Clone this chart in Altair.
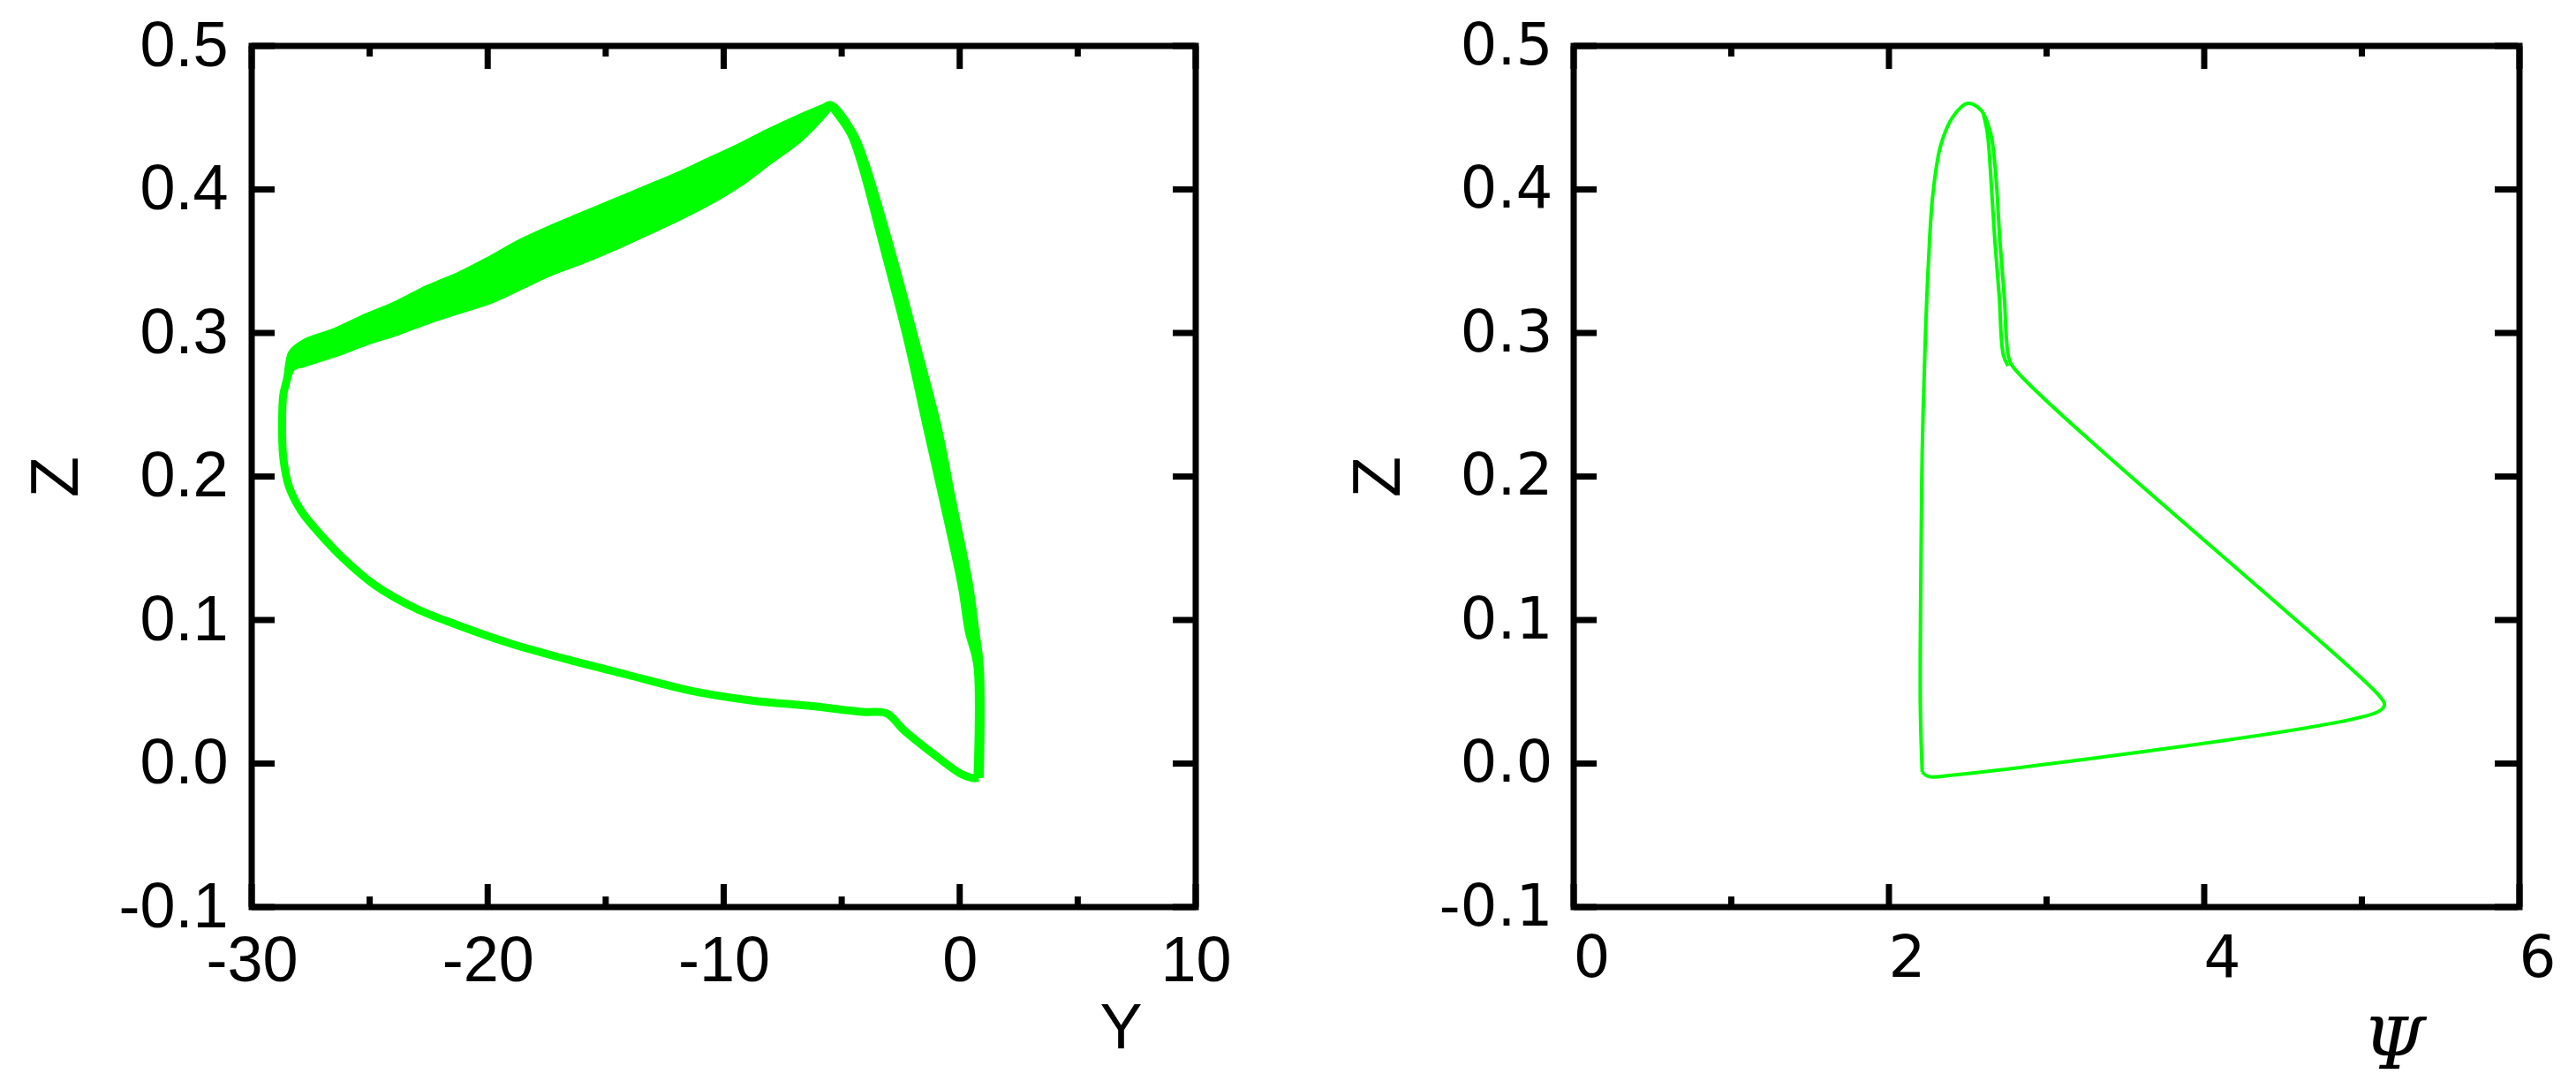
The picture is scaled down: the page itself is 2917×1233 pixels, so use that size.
import altair as alt
import pandas as pd

GREEN = "#00ff00"

# ---------------- Left panel (Y vs Z) ----------------
# right side of the loop, bottom -> peak: outer edge, centre and inner edge of the thick stroke
right_Z = [-0.010, 0.068, 0.0926, 0.1234, 0.185, 0.2342, 0.2957, 0.357, 0.4188, 0.439, 0.4588]
right_outer_Y = [0.85, 0.85, 0.66, 0.41, -0.34, -0.93, -1.90, -2.90, -4.02, -4.52, -5.47]
right_mid_Y = [0.80, 0.80, 0.52, 0.25, -0.53, -1.16, -2.06, -3.04, -4.10, -4.57, -5.47]
right_inner_Y = [0.75, 0.75, 0.38, 0.09, -0.72, -1.39, -2.22, -3.18, -4.18, -4.62, -5.47]

# thick band, peak -> left (upper and lower edge)
band_Y = [-5.47, -5.75, -6.76, -8.07, -9.38, -10.70, -12.01, -13.32, -14.64, -15.95, -17.26,
          -18.58, -19.89, -21.20, -22.51, -23.83, -25.14, -26.45, -27.77, -28.29]
band_Zup = [0.4588, 0.457, 0.450, 0.440, 0.429, 0.419, 0.409, 0.400, 0.391, 0.382, 0.373,
            0.363, 0.351, 0.340, 0.331, 0.320, 0.311, 0.301, 0.293, 0.286]
band_Zlo = [0.4588, 0.453, 0.436, 0.420, 0.404, 0.391, 0.380, 0.370, 0.360, 0.351, 0.343,
            0.333, 0.323, 0.316, 0.309, 0.301, 0.294, 0.286, 0.279, 0.276]

# left side and bottom, band end -> bottom of vertical
lower_Y = [-28.29, -28.50, -28.66, -28.71, -28.66, -28.42, -27.90, -27.11, -26.06, -24.75, -23.04,
           -21.20, -19.10, -16.74, -14.11, -11.48, -8.86, -6.23, -4.13, -3.10, -2.35, -1.10,
           0.02, 0.52, 0.80]
lower_Z = [0.276, 0.268, 0.257, 0.237, 0.213, 0.193, 0.176, 0.160, 0.142, 0.124, 0.108,
           0.096, 0.084, 0.073, 0.062, 0.051, 0.044, 0.040, 0.036, 0.035, 0.023, 0.0065,
           -0.0069, -0.010, -0.010]

# ---------------- Right panel (Psi vs Z) ----------------
psi_vals = [2.211, 2.199, 2.203, 2.211, 2.231, 2.250, 2.278, 2.329, 2.408, 2.499, 2.586, 2.645,
            2.677, 2.704, 2.732, 2.756, 2.783, 5.112, 5.144, 5.101, 2.408, 2.250, 2.211]
psi_Z = [-0.006, 0.041, 0.139, 0.218, 0.297, 0.348, 0.396, 0.431, 0.451, 0.460, 0.455, 0.439,
         0.411, 0.364, 0.325, 0.285, 0.277, 0.047, 0.041, 0.036, -0.008, -0.009, -0.006]
leg_psi = [2.600, 2.625, 2.645, 2.672, 2.700, 2.725, 2.755]
leg_Z = [0.452, 0.439, 0.411, 0.364, 0.325, 0.285, 0.277]

# axis ticks / labels
left_x_labels = [-30, -20, -10, 0, 10]
left_x_minor = [-25, -15, -5, 5]
right_x_labels = [0, 2, 4, 6]
right_x_minor = [1, 3, 5]
z_labels = [-0.1, 0.0, 0.1, 0.2, 0.3, 0.4, 0.5]

W, H = 1069, 975
MAJ, MIN = 26, 12


def path(xs, ys, name):
    return pd.DataFrame({"x": xs, "y": ys, "i": list(range(len(xs))), "s": name})


loop_x = right_outer_Y + band_Y[1:] + lower_Y[1:]
loop_y = right_Z + band_Zup[1:] + lower_Z[1:]
left_lines = pd.concat([
    path(loop_x, loop_y, "loop"),
    path(band_Y + [lower_Y[1]], band_Zlo + [lower_Z[1]], "bandlo"),
    path(right_mid_Y, right_Z, "mid"),
    path(right_inner_Y, right_Z, "inner"),
])
band_df = pd.DataFrame({"x": band_Y, "up": band_Zup, "lo": band_Zlo})

right_lines = pd.concat([
    path(psi_vals, psi_Z, "loop"),
    path(leg_psi, leg_Z, "leg"),
])

ysc = alt.Scale(domain=[-0.1, 0.5], nice=False, zero=False)
xsc_l = alt.Scale(domain=[-30, 10], nice=False, zero=False)
xsc_r = alt.Scale(domain=[0, 6], nice=False, zero=False)

int_expr = "(datum.value < 0 ? '-' : '') + format(abs(datum.value), 'd')"
dec_expr = "(datum.value < 0 ? '-' : '') + format(abs(datum.value), '.1f')"


def tick_layers(xmajor, xminor, xsc):
    layers = []
    for vals, L in ((xmajor, MAJ), (xminor, MIN)):
        d = pd.DataFrame({"v": vals})
        layers.append(alt.Chart(d).mark_rule(color="black", strokeWidth=7).encode(
            x=alt.X("v:Q", scale=xsc), y=alt.value(H), y2=alt.value(H - L)))
        layers.append(alt.Chart(d).mark_rule(color="black", strokeWidth=7).encode(
            x=alt.X("v:Q", scale=xsc), y=alt.value(0), y2=alt.value(L)))
    d = pd.DataFrame({"v": z_labels})
    layers.append(alt.Chart(d).mark_rule(color="black", strokeWidth=7).encode(
        y=alt.Y("v:Q", scale=ysc), x=alt.value(0), x2=alt.value(MAJ)))
    layers.append(alt.Chart(d).mark_rule(color="black", strokeWidth=7).encode(
        y=alt.Y("v:Q", scale=ysc), x=alt.value(W), x2=alt.value(W - MAJ)))
    return layers


def yaxis(font, size, pad):
    return alt.Axis(values=z_labels, labelExpr=dec_expr, domain=False, ticks=False, tickSize=0,
                    grid=False, labelFont=font, labelFontSize=size, labelPadding=pad,
                    labelColor="black", labelFlush=False, labelOverlap=False,
                    title="Z", titleFont="Liberation Sans", titleFontSize=76,
                    titleFontWeight="normal", titleColor="black", titleAngle=270,
                    titleX=-221, titleY=H / 2, titleAlign="center", titleBaseline="middle")


xaxis_l = alt.Axis(values=left_x_labels, labelExpr=int_expr, domain=False, ticks=False, tickSize=0,
                   grid=False, labelFont="Liberation Sans", labelFontSize=72, labelPadding=26,
                   labelColor="black", labelFlush=False, labelOverlap=False,
                   title="Y", titleFont="Liberation Sans", titleFontSize=72,
                   titleFontWeight="normal", titleColor="black",
                   titleX=984, titleY=137, titleAlign="center", titleBaseline="middle")

xaxis_r = alt.Axis(values=right_x_labels, labelExpr=int_expr, domain=False, ticks=False, tickSize=0,
                   grid=False, labelFont="DejaVu Sans", labelFontSize=66, labelPadding=26,
                   labelColor="black", labelFlush=False, labelOverlap=False, labelOffset=20,
                   title="Ψ", titleFont="DejaVu Serif", titleFontSize=80, titleFontStyle="italic",
                   titleFontWeight="normal", titleColor="black",
                   titleX=928, titleY=158, titleAlign="center", titleBaseline="middle")

left_area = alt.Chart(band_df).mark_area(color=GREEN, opacity=1).encode(
    x=alt.X("x:Q", scale=xsc_l), y=alt.Y("up:Q", scale=ysc), y2="lo:Q")
left_line = alt.Chart(left_lines).mark_line(color=GREEN, strokeWidth=9, strokeJoin="round",
                                            interpolate="catmull-rom").encode(
    x=alt.X("x:Q", scale=xsc_l, axis=xaxis_l),
    y=alt.Y("y:Q", scale=ysc, axis=yaxis("Liberation Sans", 72, 27)),
    order="i:Q", detail="s:N")

right_line = alt.Chart(right_lines).mark_line(color=GREEN, strokeWidth=4, strokeJoin="round",
                                              interpolate="catmull-rom").encode(
    x=alt.X("x:Q", scale=xsc_r, axis=xaxis_r),
    y=alt.Y("y:Q", scale=ysc, axis=yaxis("DejaVu Sans", 66, 24)),
    order="i:Q", detail="s:N")

left = alt.layer(left_line, left_area, *tick_layers(left_x_labels, left_x_minor, xsc_l)).properties(width=W, height=H)
right = alt.layer(right_line, *tick_layers(right_x_labels, right_x_minor, xsc_r)).properties(width=W + 2, height=H)

chart = alt.hconcat(left, right, spacing=121).properties(
    padding={"left": 14, "top": 4, "right": 0, "bottom": 0},
    background="white",
).configure_view(stroke="black", strokeWidth=7)

chart.save("out.html", embed_options={"renderer": "svg", "actions": False})
